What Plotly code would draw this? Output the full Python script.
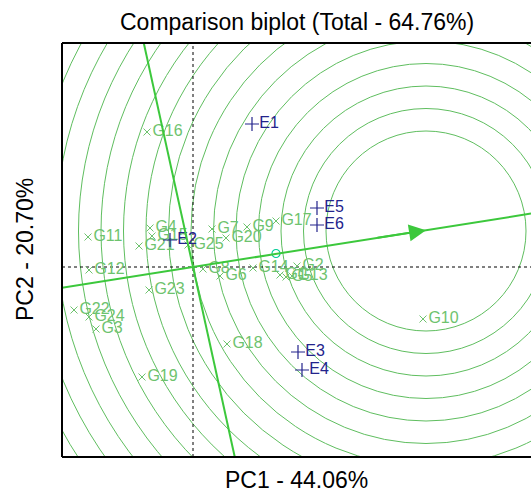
import plotly.graph_objects as go

# ---- data (PC1, PC2 scores) ----
genotypes = ["G1", "G2", "G3", "G4", "G5", "G6", "G7", "G8", "G9", "G10",
             "G11", "G12", "G13", "G14", "G15", "G16", "G17", "G18", "G19", "G20",
             "G21", "G22", "G23", "G24", "G25"]
g_pc1 = [1.74, 2.08, -1.94, -0.86, 1.86, 0.54, 0.38, 0.20, 1.08, 4.60,
         -2.10, -2.08, 1.98, 1.20, -0.82, -0.92, 1.66, 0.68, -1.02, 0.66,
         -1.08, -2.38, -0.88, -2.08, -0.10]
g_pc2 = [-0.16, 0.02, -1.24, 0.78, -0.20, -0.18, 0.76, -0.04, 0.80, -1.04,
         0.60, -0.06, -0.18, -0.02, 0.62, 2.70, 0.92, -1.54, -2.20, 0.58,
         0.42, -0.86, -0.46, -1.00, 0.44]

environments = ["E1", "E2", "E3", "E4", "E5", "E6"]
e_pc1 = [1.18, -0.46, 2.10, 2.18, 2.48, 2.48]
e_pc2 = [2.86, 0.54, -1.70, -2.06, 1.18, 0.84]

avg_env = (1.66, 0.27)          # average environment marker
aec_slope = 0.158               # average-environment axis slope
perp_slope = -4.55              # AEC ordinate slope
ideal = (4.66, 0.72)            # ideal environment (circle centre / arrow tip)
ring_r0 = 2.0
ring_step = 0.45
n_rings = 15

title_text = "Comparison biplot (Total - 64.76%)"
x_title = "PC1 - 44.06%"
y_title = "PC2 - 20.70%"

x_range = [-2.62, 6.76]
y_range = [-3.80, 4.48]

# ---- styles ----
FONT = "Liberation Sans, Arial, sans-serif"
ring_col = "rgb(95,190,95)"
axis_col = "rgb(60,200,60)"
g_col = "rgb(110,195,110)"
e_col = "rgb(35,35,140)"

fig = go.Figure()

shapes = []
for k in range(n_rings):
    r = ring_r0 + k * ring_step
    shapes.append(dict(type="circle", xref="x", yref="y",
                       x0=ideal[0] - r, x1=ideal[0] + r,
                       y0=ideal[1] - r, y1=ideal[1] + r,
                       line=dict(color=ring_col, width=1), layer="below"))
# dotted origin lines
shapes.append(dict(type="line", xref="x", yref="y", x0=x_range[0], x1=x_range[1], y0=0, y1=0,
                   line=dict(color="black", width=1, dash="dot"), layer="below"))
shapes.append(dict(type="line", xref="x", yref="y", x0=0, x1=0, y0=y_range[0], y1=y_range[1],
                   line=dict(color="black", width=1, dash="dot"), layer="below"))
# AEC abscissa
shapes.append(dict(type="line", xref="x", yref="y",
                   x0=x_range[0], y0=aec_slope * x_range[0],
                   x1=x_range[1], y1=aec_slope * x_range[1],
                   line=dict(color=axis_col, width=2)))
# AEC ordinate
shapes.append(dict(type="line", xref="x", yref="y",
                   x0=y_range[1] / perp_slope, y0=y_range[1],
                   x1=y_range[0] / perp_slope, y1=y_range[0],
                   line=dict(color=axis_col, width=2)))
# frame (left, top, bottom)
for (a, b, c, d) in [(0, 0, 0, 1), (0, 1, 1, 1), (0, 0, 1, 0)]:
    shapes.append(dict(type="line", xref="paper", yref="paper", x0=a, y0=b, x1=c, y1=d,
                       line=dict(color="black", width=2)))

fig.add_trace(go.Scatter(
    x=g_pc1, y=g_pc2, text=genotypes, mode="markers+text",
    textposition="middle right",
    marker=dict(symbol="x-thin-open", size=7, line=dict(color=g_col, width=1), color=g_col),
    textfont=dict(family=FONT, size=16, color=g_col),
    hoverinfo="text", showlegend=False, cliponaxis=True))

fig.add_trace(go.Scatter(
    x=e_pc1, y=e_pc2, text=environments, mode="markers+text",
    textposition="middle right",
    marker=dict(symbol="cross-thin-open", size=10, line=dict(color=e_col, width=1.2), color=e_col),
    textfont=dict(family=FONT, size=16, color=e_col),
    hoverinfo="text", showlegend=False, cliponaxis=True))

fig.add_trace(go.Scatter(
    x=[avg_env[0]], y=[avg_env[1]], mode="markers",
    marker=dict(symbol="circle-open", size=8, line=dict(color="rgb(40,60,170)", width=1.2)),
    hoverinfo="skip", showlegend=False))

arrow_tail_x = ideal[0] - 1.0
fig.add_annotation(x=ideal[0], y=aec_slope * ideal[0], ax=arrow_tail_x, ay=aec_slope * arrow_tail_x,
                   xref="x", yref="y", axref="x", ayref="y", text="", showarrow=True,
                   arrowhead=2, arrowsize=1.7, arrowwidth=2, arrowcolor=axis_col)

# titles as paper-anchored annotations (pixel-matched to the reference)
fig.add_annotation(text=title_text, xref="paper", yref="paper", x=0.501, y=1.0 + 21 / 414,
                   xanchor="center", yanchor="middle", showarrow=False,
                   font=dict(family=FONT, size=23, color="black"))
fig.add_annotation(text=x_title, xref="paper", yref="paper", x=0.501, y=-23 / 414,
                   xanchor="center", yanchor="middle", showarrow=False,
                   font=dict(family=FONT, size=23, color="black"))
fig.add_annotation(text=y_title, xref="paper", yref="paper", x=-37 / 469, y=0.5,
                   xanchor="center", yanchor="middle", showarrow=False, textangle=-90,
                   font=dict(family=FONT, size=23, color="black"))

fig.update_layout(
    width=531, height=494,
    margin=dict(l=62, r=0, t=43, b=37, autoexpand=False),
    paper_bgcolor="white", plot_bgcolor="white",
    shapes=shapes,
    xaxis=dict(range=x_range, showgrid=False, zeroline=False, showticklabels=False, ticks="",
               automargin=False, fixedrange=True),
    yaxis=dict(range=y_range, showgrid=False, zeroline=False, showticklabels=False, ticks="",
               automargin=False, fixedrange=True),
)

fig.write_html("out.html", config={"displayModeBar": False},
               post_script="document.body.style.margin='0';document.body.style.padding='0';")
